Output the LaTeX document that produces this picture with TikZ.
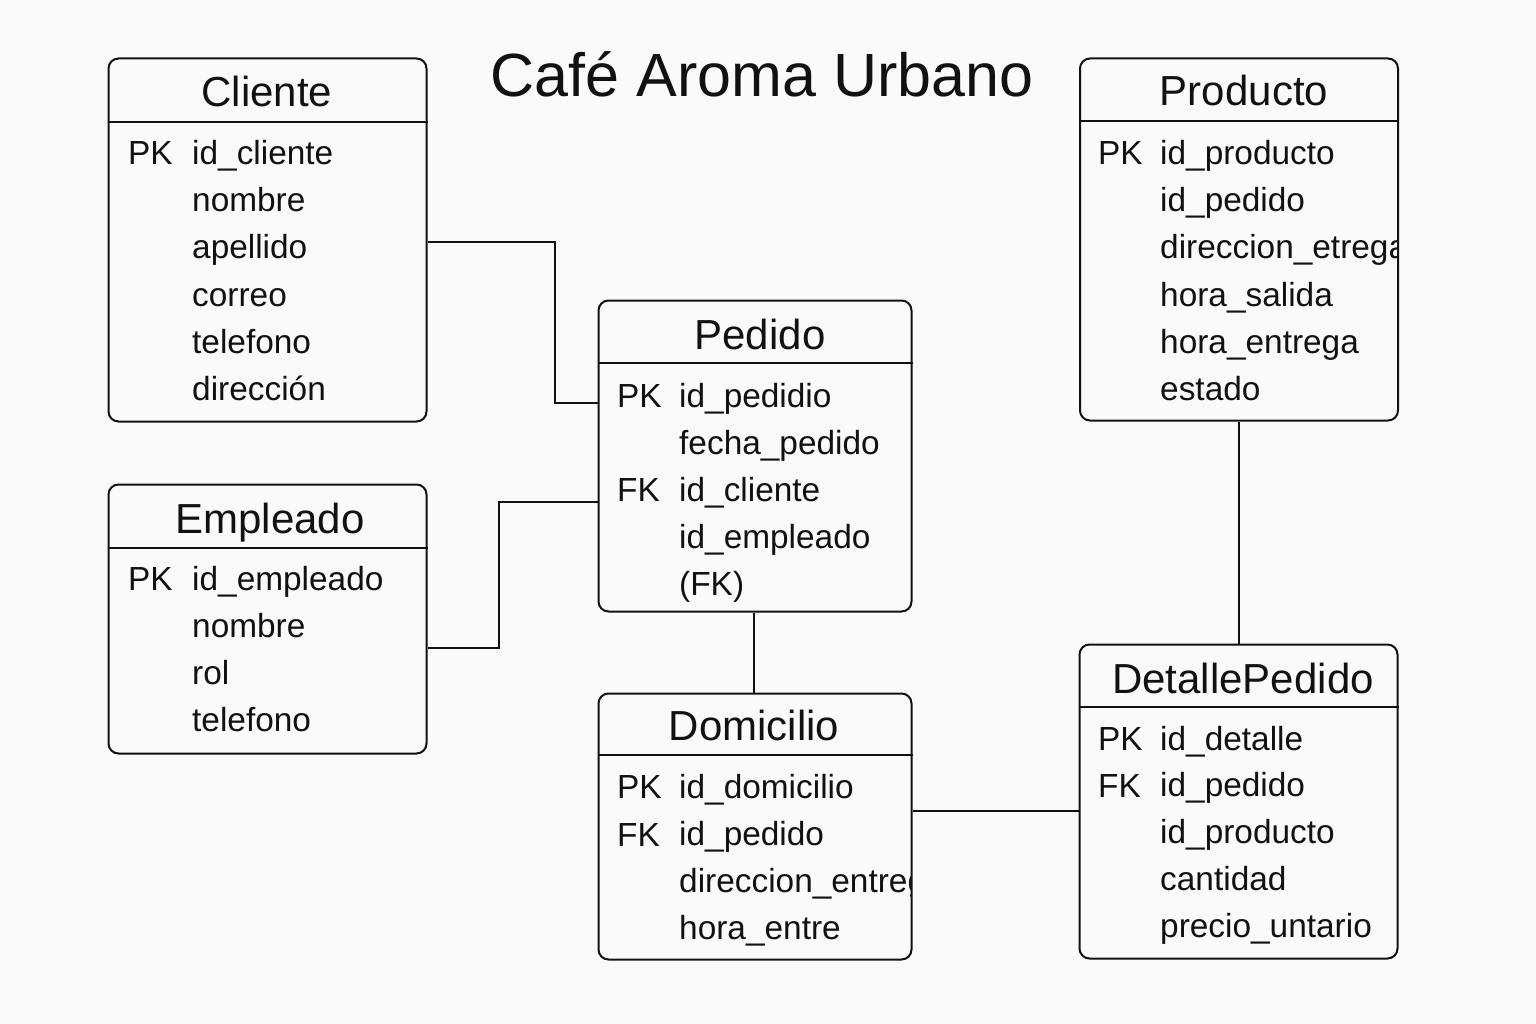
\documentclass[tikz,border=0pt]{standalone}
\usepackage{fontspec}
\setmainfont{Liberation Sans}
\definecolor{bg}{RGB}{250,250,250}
\definecolor{ink}{RGB}{17,17,17}
\tikzset{
  entity/.style={draw=ink, line width=2pt, rounded corners=10pt, inner sep=0pt, anchor=north west},
  hdr/.style={font=\fontsize{42}{42}\selectfont, text=ink, anchor=base, inner sep=0pt},
  attr/.style={font=\fontsize{33.4}{33.4}\selectfont, text=ink, anchor=base west, inner sep=0pt},
  titletxt/.style={font=\fontsize{61}{61}\selectfont, text=ink, anchor=base, inner sep=0pt},
  link/.style={draw=ink, line width=2pt},
  sep/.style={draw=ink, line width=1.6pt},
}
\begin{document}
\begin{tikzpicture}[x=1pt,y=-1pt]
\fill[bg] (0,0) rectangle (1536,1024);
\useasboundingbox (0,0) rectangle (1536,1024);

\node[titletxt] (title) at (762,97) {Café Aroma Urbano};

% ---------- Cliente
\node[entity, minimum width=318pt, minimum height=363pt] (cliente) at (107.5,57.5) {};
\draw[sep] (cliente.west |- 0,122) -- (cliente.east |- 0,122);
\node[hdr] (cliente-h) at (267,107) {Cliente};
\node[attr] (cliente-pk) at (128,165) {PK};
\foreach \t [count=\i from 0] in {id\_cliente,nombre,apellido,correo,telefono,dirección}
  \node[attr] (cliente-a\i) at (192,165+47*\i) {\t};

% ---------- Empleado
\node[entity, minimum width=318pt, minimum height=269pt] (empleado) at (107.5,483.5) {};
\draw[sep] (empleado.west |- 0,548) -- (empleado.east |- 0,548);
\node[hdr] (empleado-h) at (270,533) {Empleado};
\node[attr] (empleado-pk) at (128,590) {PK};
\foreach \t [count=\i from 0] in {id\_empleado,nombre,rol,telefono}
  \node[attr] (empleado-a\i) at (192,590+47*\i) {\t};

% ---------- Pedido
\node[entity, minimum width=313pt, minimum height=311pt] (pedido) at (597.5,299.5) {};
\draw[sep] (pedido.west |- 0,363) -- (pedido.east |- 0,363);
\node[hdr] (pedido-h) at (760,349) {Pedido};
\node[attr] (pedido-pk) at (617,407) {PK};
\node[attr] (pedido-fk) at (617,501) {FK};
\foreach \t [count=\i from 0] in {id\_pedidio,fecha\_pedido,id\_cliente,id\_empleado,(FK)}
  \node[attr] (pedido-a\i) at (679,407+47*\i) {\t};

% ---------- Domicilio
\node[entity, minimum width=313pt, minimum height=266pt] (domicilio) at (597.5,692.5) {};
\draw[sep] (domicilio.west |- 0,755) -- (domicilio.east |- 0,755);
\node[hdr] (domicilio-h) at (754,740) {Domicilio};
\node[attr] (domicilio-pk) at (617,798) {PK};
\node[attr] (domicilio-fk) at (617,846) {FK};
\begin{scope}
  \clip (597,692) rectangle (910,959);
  \foreach \t [count=\i from 0] in {id\_domicilio,id\_pedido,direccion\_entrega,hora\_entre}
    \node[attr] (domicilio-a\i) at (679,798+47.3*\i) {\t};
\end{scope}

% ---------- Producto
\node[entity, minimum width=318pt, minimum height=362pt] (producto) at (1079,57.5) {};
\draw[sep] (producto.west |- 0,121) -- (producto.east |- 0,121);
\node[hdr] (producto-h) at (1244,106) {Producto};
\node[attr] (producto-pk) at (1098,165) {PK};
\begin{scope}
  \clip (1079,57) rectangle (1396.5,420);
  \foreach \t [count=\i from 0] in {id\_producto,id\_pedido,direccion\_etrega,hora\_salida,hora\_entrega,estado}
    \node[attr] (producto-a\i) at (1160,165+47*\i) {\t};
\end{scope}

% ---------- DetallePedido
\node[entity, minimum width=318pt, minimum height=314pt] (detalle) at (1078.5,643.5) {};
\draw[sep] (detalle.west |- 0,707) -- (detalle.east |- 0,707);
\node[hdr] (detalle-h) at (1243,693) {DetallePedido};
\node[attr] (detalle-pk) at (1098,750) {PK};
\node[attr] (detalle-fk) at (1098,797) {FK};
\foreach \t [count=\i from 0] in {id\_detalle,id\_pedido,id\_producto,cantidad,precio\_untario}
  \node[attr] (detalle-a\i) at (1160,750+46.8*\i) {\t};

% ---------- Connectors
\coordinate (c1) at (555,403);
\coordinate (c2) at (499,502);
\draw[link] (cliente.east |- 0,242) -| (c1) -- (pedido.west |- c1);
\draw[link] (empleado.east |- 0,648) -| (c2) -- (pedido.west |- c2);
\draw[link] (pedido.south -| 754,0) -- (domicilio.north -| 754,0);
\draw[link] (domicilio.east |- 0,811) -- (detalle.west |- 0,811);
\draw[link] (producto.south -| 1239,0) -- (detalle.north -| 1239,0);
\end{tikzpicture}
\end{document}
